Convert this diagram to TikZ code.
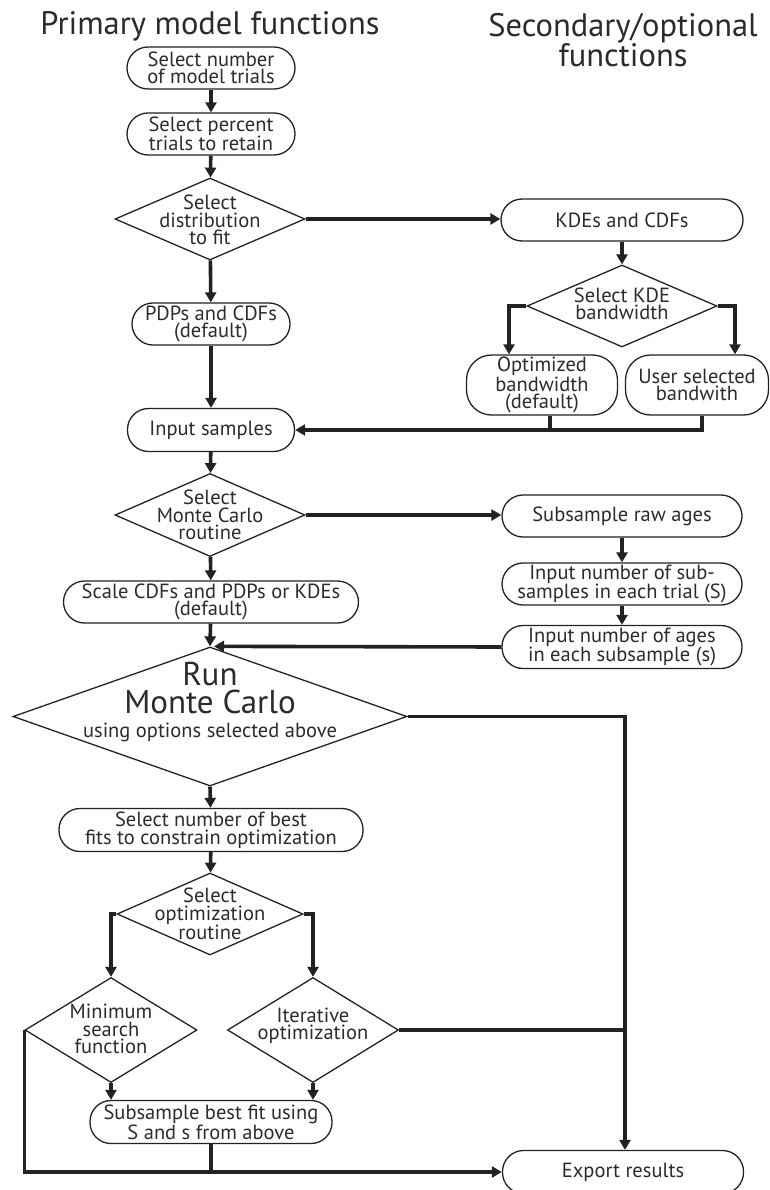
\documentclass[tikz,border=0pt]{standalone}
\usepackage{fontspec}
\setmainfont{PT Sans}
\usetikzlibrary{shapes.geometric,arrows.meta}
\definecolor{ink}{HTML}{222222}
\definecolor{txt}{HTML}{2B2B2B}
\begin{document}
\begin{tikzpicture}[x=1pt,y=-1pt,
  box/.style={draw=ink, line width=1.3pt, rounded corners=21pt, align=center,
    font=\fontsize{20.5pt}{17.5pt}\selectfont, inner sep=0pt, text=txt},
  dia/.style={draw=ink, line width=1.3pt, diamond, inner sep=0pt},
  dtxt/.style={align=center, font=\fontsize{20.5pt}{17.5pt}\selectfont, text=txt, inner sep=0pt},
  ttl/.style={font=\fontsize{32.5pt}{28pt}\selectfont, text=txt, align=center, inner sep=0pt},
  flow/.style={line width=3.6pt, draw=ink, line join=miter, -{Triangle[length=10pt,width=11pt]}},
  plain/.style={line width=3.6pt, draw=ink, line join=miter},
]
\useasboundingbox (0,0) rectangle (769,1190);
% titles
\node[ttl, anchor=base] (t1) at (210,35) {Primary model functions};
\node[ttl] (t2) at (623,40) {Secondary/optional\\functions};
% left column
\node[box, minimum width=168pt, minimum height=42pt] (n1) at (211,68) {Select number\\of model trials};
\node[box, minimum width=168pt, minimum height=42pt] (n2) at (211,134) {Select percent\\trials to retain};
\node[dia, minimum width=190pt, minimum height=82pt] (d1) at (210,219) {};
\node[dtxt] (d1t) at (210,220) {Select\\distribution\\to fit};
\node[box, minimum width=158pt, minimum height=42pt] (pdp) at (211,324) {PDPs and CDFs\\(default)};
\node[box, minimum width=167pt, minimum height=43pt] (inp) at (211,430) {Input samples};
\node[dia, minimum width=190pt, minimum height=83pt] (d3) at (210,515) {};
\node[dtxt] (d3t) at (210,515) {Select\\Monte Carlo\\routine};
\node[box, minimum width=295pt, minimum height=42pt] (scl) at (211,602) {Scale CDFs and PDPs or KDEs\\(default)};
\node[dia, minimum width=394pt, minimum height=139pt] (mc) at (210,716.5) {};
\node[ttl, font=\fontsize{33pt}{28pt}\selectfont] (mct) at (210,688) {Run\\Monte Carlo};
\node[text=txt, inner sep=0pt, font=\fontsize{20.5pt}{17.5pt}\selectfont, anchor=base] (mcs) at (210,737) {using options selected above};
\node[box, minimum width=304pt, minimum height=43pt] (bst) at (211,830) {Select number of best\\fits to constrain optimization};
\node[dia, minimum width=186pt, minimum height=82pt] (d4) at (210,914) {};
\node[dtxt] (d4t) at (210,914) {Select\\optimization\\routine};
\node[dia, minimum width=172pt, minimum height=105pt] (min) at (111,1030) {};
\node[dtxt] (mint) at (111,1029) {Minimum\\search\\function};
\node[dia, minimum width=171pt, minimum height=105pt] (itr) at (313,1030) {};
\node[dtxt] (itrt) at (313,1026) {Iterative\\optimization};
\node[box, minimum width=242pt, minimum height=43pt] (sbf) at (211,1122) {Subsample best fit using\\S and s from above};
% right column
\node[box, minimum width=242pt, minimum height=42pt] (kde) at (622,220) {KDEs and CDFs};
\node[dia, minimum width=190pt, minimum height=82pt] (d2) at (622,306) {};
\node[dtxt] (d2t) at (622,304) {Select KDE\\bandwidth};
\node[box, rounded corners=25pt, minimum width=151pt, minimum height=60pt] (opt) at (542,385) {Optimized\\bandwidth\\(default)};
\node[box, rounded corners=25pt, minimum width=143pt, minimum height=60pt] (usr) at (697,385) {User selected\\bandwith};
\node[box, minimum width=240pt, minimum height=42pt] (sub) at (622,516) {Subsample raw ages};
\node[box, minimum width=240pt, minimum height=42pt] (ins) at (622,584) {Input number of sub-\\samples in each trial (S)};
\node[box, minimum width=240pt, minimum height=43pt] (ina) at (622,647) {Input number of ages\\in each subsample (s)};
\node[box, minimum width=241pt, minimum height=43pt] (exp) at (623,1172) {Export results};
% connectors
\draw[flow] (n1) -- (n2);
\draw[flow] (n2) -- (d1);
\draw[flow] (d1) -- (pdp);
\draw[flow] (d1.east) -- (d1.east -| kde.west);
\draw[flow] (kde) -- (d2);
\draw[flow] (d2.west) -| ([xshift=-33pt]opt.north);
\draw[flow] (d2.east) -| ([xshift=38pt]usr.north);
\draw[plain] ([xshift=8pt]opt.south) -- ([xshift=8pt]opt.south |- inp.east);
\draw[flow] ([xshift=5pt]usr.south) |- (inp.east);
\draw[flow] (pdp) -- (inp);
\draw[flow] (inp) -- (d3);
\draw[flow] (d3.east) -- (d3.east -| sub.west);
\draw[flow] (sub) -- (ins);
\draw[flow] (ins) -- (ina);
\draw[flow, shorten >=4pt] (ina.west) -- (mc.north);
\draw[flow] (d3) -- (scl);
\draw[flow] (scl) -- (mc.north);
\draw[flow] (mc.east) -| ([xshift=2pt]exp.north);
\draw[flow] (mc.south) -- (bst);
\draw[flow] (bst) -- (d4);
\draw[flow] (d4.west) -| (min.north);
\draw[flow] (d4.east) -| (itr.north);
\draw[flow] (min.south) -- (min.south |- sbf.north);
\draw[flow] (itr.south) -- (itr.south |- sbf.north);
\draw[plain] (itr.east) -- ([xshift=2pt]itr.east -| exp.north);
\draw[flow] (min.west) |- (exp.west);
\draw[plain] (sbf.south) -- (sbf.south |- exp.west);
\end{tikzpicture}
\end{document}
